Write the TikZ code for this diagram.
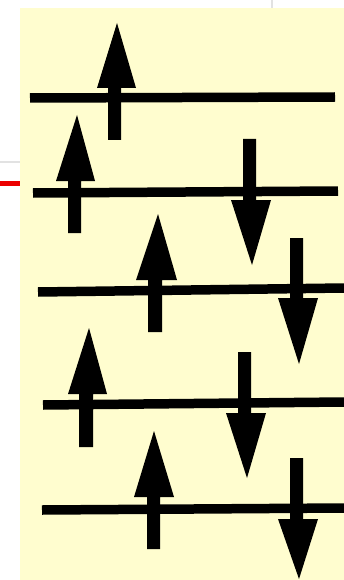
\documentclass[tikz,border=0pt]{standalone}
\usepackage{tikz}
\definecolor{paper}{RGB}{255,253,207}
\definecolor{guide}{RGB}{226,226,226}
\definecolor{redmark}{RGB}{236,0,0}
\tikzset{
  level/.style={line width=9.5pt, line cap=butt, black},
  spin/.style={fill=black, draw=none},
  guideline/.style={draw=guide, line width=2pt},
}
\begin{document}
\begin{tikzpicture}[x=1pt,y=-1pt]
\useasboundingbox (0,0) rectangle (344,580);
% background panel
\fill[paper] (20,8) rectangle (344,580);
% guides outside the panel
\draw[guideline] (272,0) -- (272,8);
\draw[guideline] (0,162) -- (20,162);
\draw[redmark, line width=4.5pt] (0,183.5) -- (20,183.5);
% energy levels
\draw[level] (30,98) -- (335,97);
\draw[level] (33,193) -- (338,191);
\draw[level] (38,292) -- (344,288);
\draw[level] (43,405) -- (344,402);
\draw[level] (42,510) -- (344,508);
% spin-up arrows
\fill[spin] (108,140) -- (108,88) -- (97,88) -- (117,23) -- (136,88) -- (121,88) -- (121,140) -- cycle;
\fill[spin] (68,233) -- (68,181) -- (56,181) -- (77,115) -- (95,181) -- (81,181) -- (81,233) -- cycle;
\fill[spin] (148,332) -- (148,280) -- (136,280) -- (158,214) -- (177,280) -- (162,280) -- (162,332) -- cycle;
\fill[spin] (79,447) -- (79,394) -- (68,394) -- (89,328) -- (107,394) -- (93,394) -- (93,447) -- cycle;
\fill[spin] (147,549) -- (147,497) -- (134,497) -- (154,431) -- (174,497) -- (160,497) -- (160,549) -- cycle;
% spin-down arrows
\fill[spin] (243,139) -- (243,200) -- (231,200) -- (252,265) -- (271,200) -- (256,200) -- (256,139) -- cycle;
\fill[spin] (290,238) -- (290,298) -- (278,298) -- (299,364) -- (318,298) -- (303,298) -- (303,238) -- cycle;
\fill[spin] (238,352) -- (238,413) -- (226,413) -- (247,478) -- (266,413) -- (251,413) -- (251,352) -- cycle;
\fill[spin] (290,458) -- (290,519) -- (278,519) -- (299,579) -- (318,519) -- (303,519) -- (303,458) -- cycle;
\end{tikzpicture}
\end{document}
